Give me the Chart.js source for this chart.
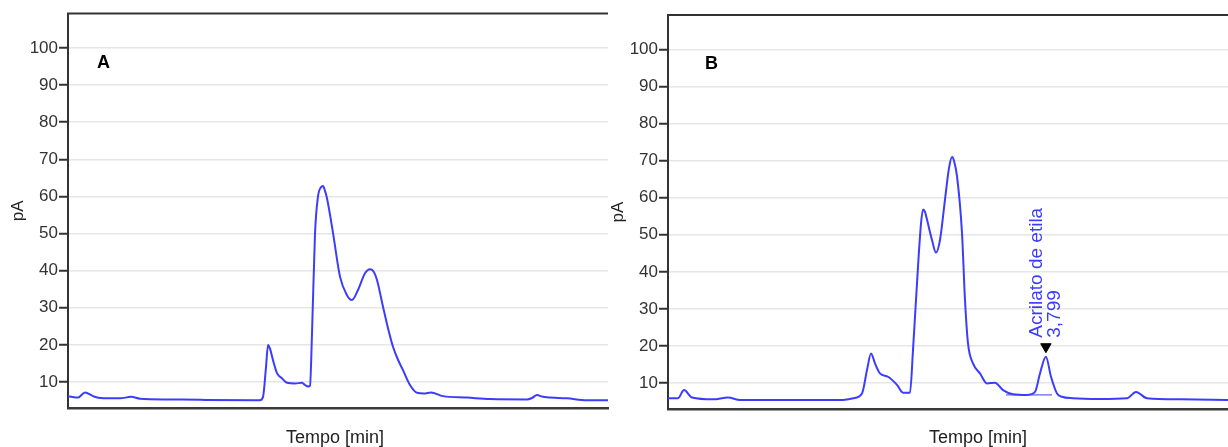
<!DOCTYPE html>
<html>
<head>
<meta charset="utf-8">
<title>Cromatogramas A e B</title>
<script src="https://cdn.jsdelivr.net/npm/chart.js@4/dist/chart.umd.min.js"></script>
<style>
    html, body { margin: 0; padding: 0; background: #fff; }
    #wrap { position: relative; width: 1228px; height: 447px; overflow: hidden; }
    #chartA { position: absolute; left: 0; top: 0; }
    #chartB { position: absolute; left: 600px; top: 0; }
</style>
</head>
<body>
<div id="wrap">
    <canvas id="chartA" width="614" height="447"></canvas>
    <canvas id="chartB" width="628" height="447"></canvas>
</div>
<script>
// ====================================
// DATA
// ====================================

const yTicks = [10, 20, 30, 40, 50, 60, 70, 80, 90, 100];

// Panel A - time [min] and signal [pA]
const timeA = [0.00, 0.10, 0.17, 0.25, 0.32, 0.52, 0.63, 0.72, 1.02, 1.32, 1.87, 1.92, 1.95, 1.98, 2.00, 2.02,
    2.05, 2.09, 2.14, 2.19, 2.27, 2.34, 2.37, 2.40, 2.42, 2.44, 2.47, 2.50, 2.53, 2.55, 2.57, 2.59,
    2.65, 2.72, 2.79, 2.84, 2.90, 2.97, 3.02, 3.06, 3.09, 3.15, 3.20, 3.25, 3.30, 3.35, 3.42, 3.49,
    3.56, 3.63, 3.75, 3.99, 4.22, 4.59, 4.64, 4.69, 4.74, 4.79, 4.99, 5.19, 5.40];
const signalA = [6.2, 5.8, 7.2, 6.2, 5.7, 5.6, 6.0, 5.5, 5.3, 5.2, 5.1, 5.1, 6.0, 14.0, 20.0, 19.0,
    15.9, 12.4, 11.0, 9.8, 9.6, 9.8, 9.2, 8.8, 9.0, 23.0, 50.0, 60.0, 62.5, 62.8, 61.5, 59.5,
    50.2, 38.4, 33.4, 32.1, 34.8, 39.3, 40.4, 39.6, 37.5, 30.3, 24.5, 19.5, 16.0, 13.2, 9.2, 7.1,
    6.9, 7.2, 6.2, 5.8, 5.4, 5.3, 5.7, 6.5, 6.1, 5.9, 5.6, 5.1, 5.1];

// Panel B - time [min] and signal [pA]
const timeB = [0.02, 0.12, 0.18, 0.26, 0.47, 0.62, 0.74, 1.34, 1.74, 1.87, 1.96, 2.01, 2.05, 2.09, 2.14, 2.22,
    2.31, 2.37, 2.44, 2.47, 2.52, 2.55, 2.57, 2.59, 2.61, 2.66, 2.70, 2.74, 2.79, 2.83, 2.86, 2.88,
    2.91, 2.96, 2.99, 3.02, 3.07, 3.14, 3.21, 3.29, 3.37, 3.47, 3.61, 3.69, 3.74, 3.799, 3.85, 3.91,
    3.96, 4.07, 4.34, 4.61, 4.70, 4.81, 5.14, 5.62];
const signalB = [5.9, 5.9, 8.1, 6.1, 5.6, 6.1, 5.4, 5.4, 5.4, 5.9, 7.2, 13.5, 18.0, 15.3, 12.6, 11.7,
    9.5, 7.4, 7.4, 18.9, 41.4, 53.0, 56.8, 56.2, 54.1, 48.6, 45.2, 48.6, 59.5, 68.0, 71.0, 70.0,
    65.8, 50.5, 32.4, 20.7, 15.3, 12.6, 9.9, 10.1, 8.1, 7.0, 6.8, 7.6, 12.6, 17.1, 11.7, 7.2,
    6.3, 5.9, 5.7, 5.9, 7.6, 5.9, 5.6, 5.4];

// Identified peak in B (ethyl acrylate)
const peakName = 'Acrilato de etila';
const peakTime = 3.799;
const peakLabel = '3,799';
const peakMarkerValue = 19.8;
const baselineTimes = [3.40, 3.86];
const baselineValues = [6.8, 6.8];

// ====================================
// STYLE
// ====================================

const FONT = '"Liberation Sans", Arial, Helvetica, sans-serif';
const LINE_BLUE = '#3c3cff';
const AXIS_DARK = '#333333';

// Draws the top frame line, the panel letter, the x title and peak labels
const panelDecor = {
    id: 'panelDecor',
    afterDraw(chart, args, opts) {
        const { ctx, chartArea } = chart;
        ctx.save();

        // top frame line
        ctx.strokeStyle = AXIS_DARK;
        ctx.lineWidth = 2;
        ctx.beginPath();
        ctx.moveTo(chartArea.left - 1, chartArea.top);
        ctx.lineTo(chartArea.right, chartArea.top);
        ctx.stroke();

        // panel letter
        ctx.fillStyle = '#000';
        ctx.font = 'bold 18px ' + FONT;
        ctx.textAlign = 'left';
        ctx.textBaseline = 'middle';
        ctx.fillText(opts.letter, chartArea.left + opts.letterDx, chartArea.top + opts.letterDy);

        // x axis title
        ctx.fillStyle = '#222';
        ctx.font = '18px ' + FONT;
        ctx.textAlign = 'center';
        ctx.fillText('Tempo [min]', (chartArea.left + chartArea.right) / 2 + opts.titleDx, 438);

        // peak annotation
        if (opts.peak) {
            const xs = chart.scales.x, ys = chart.scales.y;
            const px = xs.getPixelForValue(peakTime);
            const py = ys.getPixelForValue(peakMarkerValue) - 9;
            ctx.fillStyle = LINE_BLUE;
            ctx.font = '19px ' + FONT;
            ctx.textAlign = 'left';
            ctx.textBaseline = 'middle';
            ctx.translate(px, py);
            ctx.rotate(-Math.PI / 2);
            ctx.fillText(peakName, 0, -9);
            ctx.fillText(peakLabel, 0, 9);
        }
        ctx.restore();
    }
};

function makePoints(times, values) {
    return times.map((t, i) => ({ x: t, y: values[i] }));
}

function makePanel(canvasId, times, values, cfg) {
    const datasets = [{
        label: 'Sinal',
        data: makePoints(times, values),
        borderColor: LINE_BLUE,
        borderWidth: 2,
        pointRadius: 0,
        cubicInterpolationMode: 'monotone',
        fill: false
    }];

    if (cfg.peak) {
        datasets.push({
            label: 'Linha de base',
            data: makePoints(baselineTimes, baselineValues),
            borderColor: LINE_BLUE,
            borderWidth: 1,
            pointRadius: 0,
            fill: false
        });
        datasets.push({
            label: 'Pico',
            data: [{ x: peakTime, y: peakMarkerValue }],
            showLine: false,
            pointStyle: 'triangle',
            rotation: 180,
            pointRadius: 6,
            backgroundColor: '#000',
            borderColor: '#000',
            borderWidth: 1
        });
    }

    return new Chart(document.getElementById(canvasId), {
        type: 'line',
        data: { datasets: datasets },
        plugins: [panelDecor],
        options: {
            responsive: false,
            animation: false,
            layout: {
                autoPadding: false,
                padding: { top: cfg.top, right: cfg.right, bottom: 0, left: 0 }
            },
            plugins: {
                legend: { display: false },
                tooltip: { enabled: false },
                panelDecor: {
                    letter: cfg.letter,
                    letterDx: cfg.letterDx,
                    letterDy: 49.5,
                    titleDx: cfg.titleDx,
                    peak: cfg.peak
                }
            },
            scales: {
                x: {
                    type: 'linear',
                    min: cfg.xMin,
                    max: cfg.xMax,
                    ticks: { display: false },
                    grid: { display: false },
                    border: { display: true, color: '#3a3a3a', width: 2.5 },
                    afterFit: (scale) => { scale.height = cfg.xHeight; }
                },
                y: {
                    min: 3,
                    max: 109.3,
                    afterBuildTicks: (scale) => {
                        scale.ticks = yTicks.map(v => ({ value: v }));
                    },
                    afterFit: (scale) => { scale.width = 68; },
                    ticks: {
                        color: '#333',
                        padding: 1,
                        font: { family: FONT, size: 17 }
                    },
                    grid: {
                        color: '#e6e6e6',
                        lineWidth: 1.5,
                        tickColor: AXIS_DARK,
                        tickLength: 9,
                        tickWidth: 2
                    },
                    border: { display: true, color: AXIS_DARK, width: 2 },
                    title: {
                        display: true,
                        text: 'pA',
                        color: '#222',
                        padding: { top: 8, bottom: 0 },
                        font: { family: FONT, size: 17 }
                    }
                }
            }
        }
    });
}

document.addEventListener('DOMContentLoaded', function() {
    makePanel('chartA', timeA, signalA, {
        letter: 'A', letterDx: 29, titleDx: -3,
        top: 13.5, right: 6, xHeight: 39,
        xMin: 0, xMax: 5.4, peak: false
    });
    makePanel('chartB', timeB, signalB, {
        letter: 'B', letterDx: 37, titleDx: 30,
        top: 15, right: 0, xHeight: 38,
        xMin: 0.02, xMax: 5.62, peak: true
    });
});
</script>
</body>
</html>
